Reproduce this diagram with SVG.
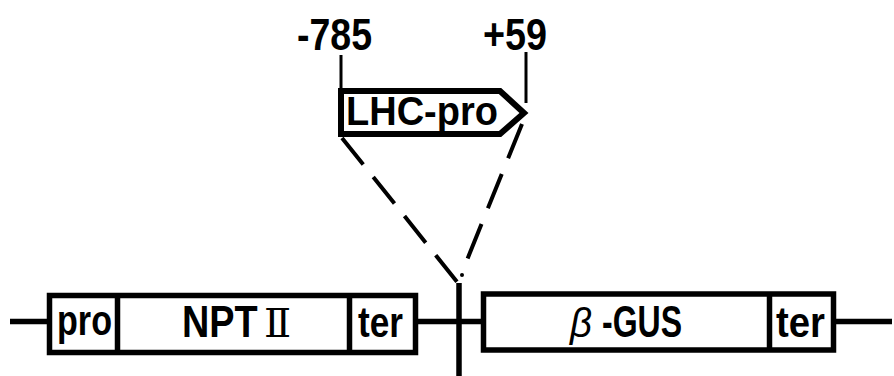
<svg xmlns="http://www.w3.org/2000/svg" width="894" height="376" viewBox="0 0 894 376">
<style>
.t{font-family:"Liberation Sans",Arial,sans-serif;font-weight:bold;fill:#000}
.box{fill:#fff;stroke:#000;stroke-width:5.5}
.ln{fill:none;stroke:#000;stroke-width:5.5}
.thin{fill:none;stroke:#000;stroke-width:3}
.dash{fill:none;stroke:#000;stroke-width:4}
</style>
<rect width="894" height="376" fill="#fff"/>
<g id="labels">
<text class="t" x="297" y="50" font-size="45" textLength="75" lengthAdjust="spacingAndGlyphs">-785</text>
<text class="t" x="483" y="50" font-size="45" textLength="64" lengthAdjust="spacingAndGlyphs">+59</text>
<line class="thin" x1="341" y1="55" x2="341" y2="92"/>
<line class="thin" x1="526" y1="52" x2="526" y2="103"/>
</g>
<g id="connectors">
<line class="ln" x1="10" y1="321.5" x2="49" y2="321.5"/>
<line class="ln" x1="416" y1="321.5" x2="484" y2="321.5"/>
<line class="ln" x1="833" y1="321.5" x2="892" y2="321.5"/>
<path class="ln" d="M459,283 V376"/>
<path class="dash" d="M342,138 L458,283" stroke-dasharray="34 16"/>
<path class="dash" d="M522,124 L467,260" stroke-dasharray="37 17"/>
<circle cx="462" cy="275" r="2" fill="#000"/>
</g>
<g id="lhc-pro">
<path d="M341,91 H500 L524,113 L500,134 H341 Z" fill="#fff" stroke="#000" stroke-width="6" stroke-linejoin="miter"/>
<text class="t" x="346" y="125" font-size="40" textLength="152" lengthAdjust="spacingAndGlyphs">LHC-pro</text>
</g>
<g id="npt-cassette">
<rect class="box" x="49.5" y="295.5" width="366" height="57"/>
<line class="ln" x1="117.5" y1="295.5" x2="117.5" y2="352.5"/>
<line class="ln" x1="349.5" y1="295.5" x2="349.5" y2="352.5"/>
<text class="t" x="57" y="335" font-size="42" textLength="55" lengthAdjust="spacingAndGlyphs">pro</text>
<text class="t" transform="translate(182,337) scale(0.86,1)" x="0" y="0" font-size="44">NPT</text>
<text x="264" y="337" font-family="'DejaVu Serif','Liberation Serif',serif" font-size="40">Ⅱ</text>
<text class="t" x="358" y="337" font-size="42" textLength="45" lengthAdjust="spacingAndGlyphs">ter</text>
</g>
<g id="gus-cassette">
<rect class="box" x="483.5" y="294" width="350" height="56"/>
<line class="ln" x1="769.5" y1="294" x2="769.5" y2="350"/>
<text x="570" y="337" font-family="'Liberation Sans',Arial,sans-serif" font-style="italic" font-size="40" textLength="22" lengthAdjust="spacingAndGlyphs">β</text>
<text class="t" x="602" y="337" font-size="44" textLength="80" lengthAdjust="spacingAndGlyphs">-GUS</text>
<text class="t" x="776" y="337" font-size="42" textLength="49" lengthAdjust="spacingAndGlyphs">ter</text>
</g>
</svg>
